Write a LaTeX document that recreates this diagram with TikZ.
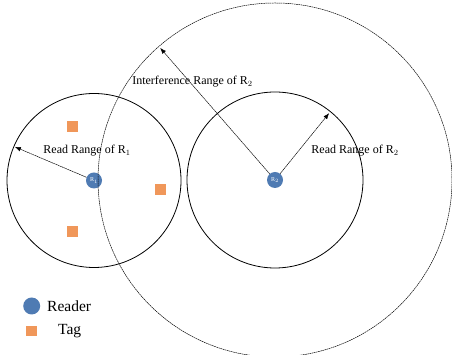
\documentclass[tikz,border=0pt]{standalone}
\usepackage{fontspec}
\setmainfont{Liberation Serif}
\usepackage{tikz}
\usetikzlibrary{
    shapes, shapes.geometric,
    arrows.meta, positioning, calc
}
\definecolor{readerBlue}{HTML}{4F7BB3}
\definecolor{tagOrange}{HTML}{F0975A}
\tikzset{
    reader/.style={circle, fill=readerBlue, minimum size=16pt, inner sep=0pt,
        text=white, font=\fontsize{6}{6}\selectfont},
    tag/.style={rectangle, fill=tagOrange, minimum size=11pt, inner sep=0pt},
    rangearrow/.style={line width=0.5pt, dash pattern=on 1.6pt off 0.5pt,
        -{Latex[length=6pt,width=4.5pt]}},
    rangelabel/.style={font=\fontsize{12}{14}\selectfont, inner sep=1pt},
    legendlabel/.style={font=\fontsize{15.5}{17}\selectfont, anchor=west, inner sep=0pt}
}

\begin{document}
\begin{tikzpicture}[x=1pt, y=1pt]
        \clip (0,0) rectangle (452,355);

        % The Readers
        \node[reader] (r1) at (94,174.5) {R$_1$};
        \node[reader] (r2) at (275,175) {R$_2$};

        % Read ranges and interference range
        \draw[line width=0.8pt] (r1) circle (87pt);
        \draw[line width=0.8pt] (r2) circle (88pt);
        \draw[line width=0.5pt, dash pattern=on 1.6pt off 0.6pt] (r2) circle (177pt);

        % The Tags
        \node[tag] (t1) at (72.5,228) {};
        \node[tag] (t2) at (160.5,165.5) {};
        \node[tag] (t3) at (72.5,123) {};

        % Range arrows
        \coordinate (r1edge) at ($(r1)+(157:86pt)$);
        \coordinate (r2edge) at ($(r2)+(51:86pt)$);
        \coordinate (r2far) at ($(r2)+(131:175pt)$);
        \draw[rangearrow] (r1) -- (r1edge);
        \draw[rangearrow] (r2) -- (r2edge);
        \draw[rangearrow] (r2) -- (r2far);

        \node[rangelabel] (l1) at (87,204) {Read Range of R$_1$};
        \node[rangelabel] (l2) at (355,204) {Read Range of R$_2$};
        \node[rangelabel] (l3) at (192.5,273) {Interference Range of R$_2$};

        % Legend
        \node[reader, minimum size=17pt] (legR) at (31.7,49) {};
        \node[legendlabel] (legRtext) at (47,49) {Reader};
        \node[tag, minimum size=10.5pt] (legT) at (31.5,24) {};
        \node[legendlabel] (legTtext) at (58,24) {Tag};
    \end{tikzpicture}
\end{document}
